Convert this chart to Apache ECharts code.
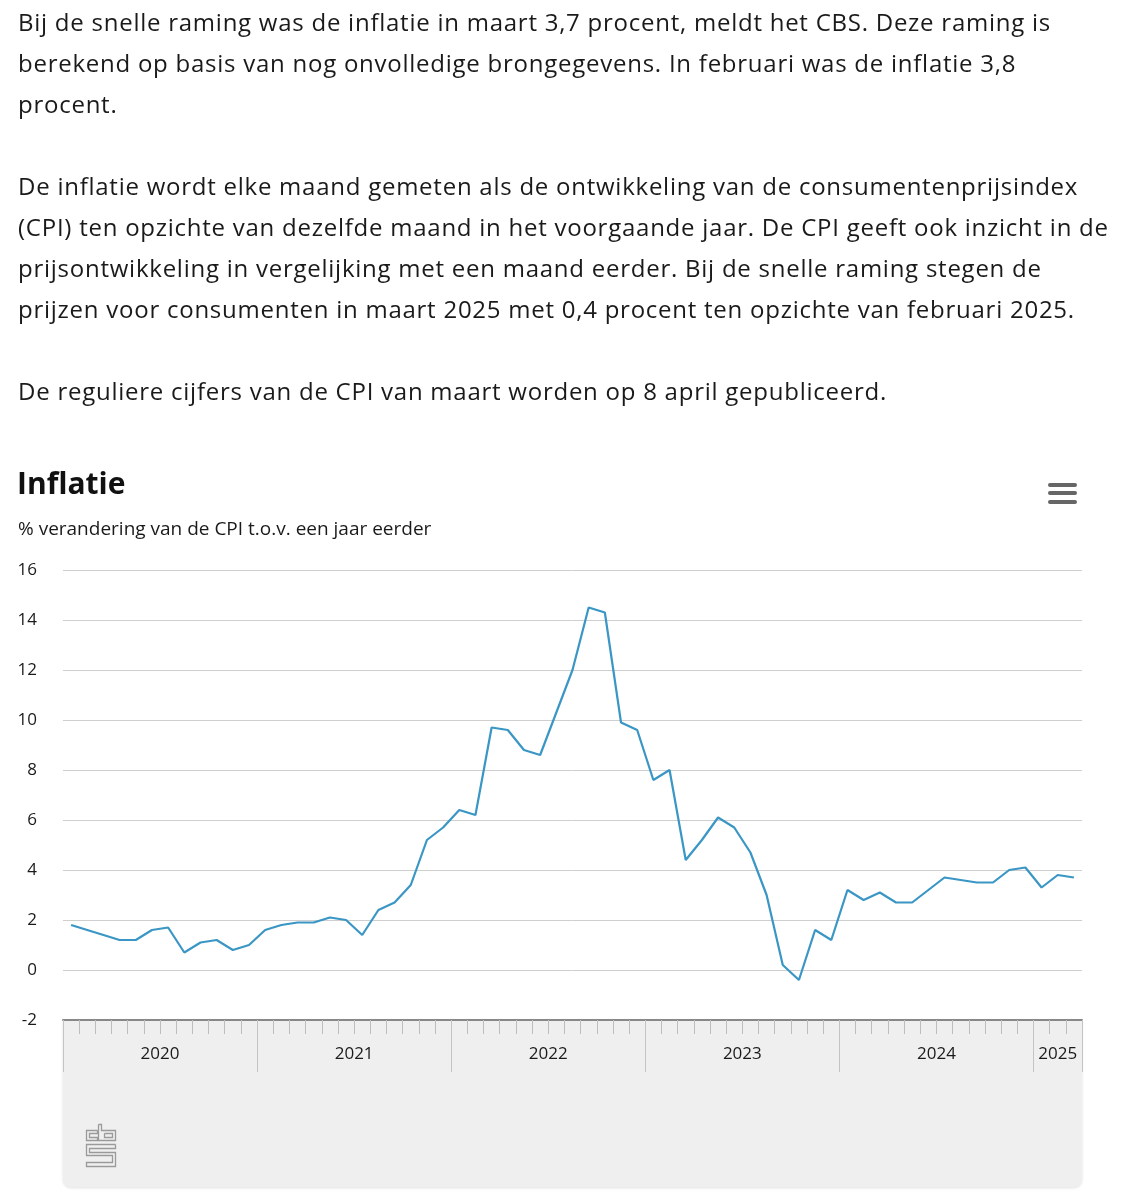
<!DOCTYPE html>
<html>
<head>
<meta charset="utf-8">
<title>Inflatie</title>
<script src="https://cdn.jsdelivr.net/npm/echarts@6/dist/echarts.min.js"></script>
<style>
	html, body { margin: 0; padding: 0; background: #ffffff; }
	#tekst {
		position: absolute; left: 18px; top: 1px; z-index: 2;
		font-family: "Open Sans", "Noto Sans", sans-serif; font-size: 24px; line-height: 41px;
		letter-spacing: 0.75px; color: #1a1a1a; white-space: nowrap;
	}
	#tekst p { margin: 0 0 41px 0; }
	#inflatie_chart { position: absolute; left: 0; top: 0; width: 1123px; height: 1200px; }
</style>
</head>
<body>
<div id="tekst">
	<p>Bij de snelle raming was de inflatie in maart 3,7 procent, meldt het CBS. Deze raming is<br>berekend op basis van nog onvolledige brongegevens. In februari was de inflatie 3,8<br>procent.</p>
	<p>De inflatie wordt elke maand gemeten als de ontwikkeling van de consumentenprijsindex<br>(CPI) ten opzichte van dezelfde maand in het voorgaande jaar. De CPI geeft ook inzicht in de<br>prijsontwikkeling in vergelijking met een maand eerder. Bij de snelle raming stegen de<br>prijzen voor consumenten in maart 2025 met 0,4 procent ten opzichte van februari 2025.</p>
	<p>De reguliere cijfers van de CPI van maart worden op 8 april gepubliceerd.</p>
</div>
<div id="inflatie_chart"></div>

<script>
	// jaren en maanden op de x-as
	var years = ['2020', '2021', '2022', '2023', '2024', '2025'];
	var monthNames = ['jan', 'feb', 'mrt', 'apr', 'mei', 'jun', 'jul', 'aug', 'sep', 'okt', 'nov', 'dec'];
	var monthsPerYear = [12, 12, 12, 12, 12, 3];

	// inflatie (% t.o.v. een jaar eerder), per maand
	var cpi2020 = [1.8, 1.6, 1.4, 1.2, 1.2, 1.6, 1.7, 0.7, 1.1, 1.2, 0.8, 1.0];
	var cpi2021 = [1.6, 1.8, 1.9, 1.9, 2.1, 2.0, 1.4, 2.4, 2.7, 3.4, 5.2, 5.7];
	var cpi2022 = [6.4, 6.2, 9.7, 9.6, 8.8, 8.6, 10.3, 12.0, 14.5, 14.3, 9.9, 9.6];
	var cpi2023 = [7.6, 8.0, 4.4, 5.2, 6.1, 5.7, 4.7, 3.0, 0.2, -0.4, 1.6, 1.2];
	var cpi2024 = [3.2, 2.8, 3.1, 2.7, 2.7, 3.2, 3.7, 3.6, 3.5, 3.5, 4.0, 4.1];
	var cpi2025 = [3.3, 3.8, 3.7];

	var yTicks = [-2, 0, 2, 4, 6, 8, 10, 12, 14, 16];

	var months = [];
	var yearStart = [];
	years.forEach(function (y, i) {
		yearStart.push(months.length);
		for (var m = 0; m < monthsPerYear[i]; m++) {
			months.push(monthNames[m] + ' ' + y);
		}
	});
	var inflatie = [].concat(cpi2020, cpi2021, cpi2022, cpi2023, cpi2024, cpi2025);

	// hulp-as in halve maanden: jaargrenzen als streep, jaartal in het midden
	var halfMonths = [];
	for (var h = 0; h <= months.length * 2; h++) halfMonths.push(h);
	var yearLabelAt = {};
	var yearTickAt = {};
	years.forEach(function (y, i) {
		var s = yearStart[i];
		var e = s + monthsPerYear[i];
		yearLabelAt[s + e] = y;
		yearTickAt[2 * s] = true;
	});
	yearTickAt[months.length * 2] = true;

	var fontFam = '"Open Sans", "Noto Sans", sans-serif';
	var lineColor = '#3a96c4';

	// cbs logootje
	function logo(x, y) {
		var st = { stroke: '#9a9a9a', lineWidth: 1.3, fill: null };
		var parts = [
			[[11, 6], [0, 6], [0, 16], [11, 16], [11, 13], [3, 13], [3, 9], [11, 9], [11, 6]],
			[[12, 0], [15, 0], [15, 6], [29, 6], [29, 16], [12, 16], [12, 0]],
			[[18, 9], [26, 9], [26, 13], [18, 13], [18, 9]],
			[[29, 20], [0, 20], [0, 31], [26, 31], [26, 38], [0, 38], [0, 42], [29, 42], [29, 28], [3, 28], [3, 24], [29, 24], [29, 20]]
		];
		return {
			type: 'group', left: x, top: y, z: 5,
			children: parts.map(function (p) {
				return { type: 'polyline', shape: { points: p }, style: st };
			})
		};
	}

	var chart = echarts.init(document.getElementById('inflatie_chart'));
	var option = {
		animation: false,
		backgroundColor: '#ffffff',
		textStyle: { fontFamily: fontFam },
		title: [
			{
				text: 'Inflatie', left: 17, top: 470, padding: 0,
				textStyle: { fontSize: 30, fontWeight: 'bold', color: '#111', fontFamily: fontFam }
			},
			{
				text: '% verandering van de CPI t.o.v. een jaar eerder', left: 18, top: 520, padding: 0,
				textStyle: { fontSize: 19, fontWeight: 'normal', color: '#1a1a1a', fontFamily: fontFam }
			}
		],
		grid: { left: 63, right: 41, top: 570, bottom: 180, containLabel: false },
		xAxis: [
			{
				type: 'category',
				data: months,
				boundaryGap: true,
				position: 'bottom',
				axisLine: { show: true, onZero: false, lineStyle: { color: '#888', width: 2 } },
				axisTick: { show: true, interval: 0, length: 14, lineStyle: { color: '#bdbdbd', width: 1 } },
				axisLabel: { show: false },
				splitLine: { show: false }
			},
			{
				type: 'category',
				data: halfMonths,
				boundaryGap: false,
				position: 'bottom',
				axisLine: { show: false, onZero: false },
				axisTick: {
					show: true, length: 52,
					interval: function (idx) { return !!yearTickAt[idx]; },
					lineStyle: { color: '#c4c4c4', width: 1 }
				},
				axisLabel: {
					show: true, margin: 26, fontSize: 17, color: '#1a1a1a', fontFamily: fontFam,
					interval: function (idx) { return yearLabelAt[idx] !== undefined; },
					formatter: function (v, idx) { return yearLabelAt[idx] || ''; }
				},
				splitLine: { show: false }
			}
		],
		yAxis: {
			type: 'value',
			min: yTicks[0],
			max: yTicks[yTicks.length - 1],
			interval: 2,
			axisLine: { show: false },
			axisTick: { show: false },
			axisLabel: { fontSize: 17, color: '#1a1a1a', margin: 26, fontFamily: fontFam },
			splitLine: { lineStyle: { color: '#cfcfcf', width: 1 } }
		},
		series: [
			{
				name: 'Inflatie',
				type: 'line',
				xAxisIndex: 0,
				data: inflatie,
				symbol: 'none',
				lineStyle: { color: lineColor, width: 2.2 },
				z: 3
			}
		],
		graphic: [
			{
				type: 'rect', z: -1,
				shape: { x: 63, y: 1020, width: 1019, height: 167, r: [0, 0, 8, 8] },
				style: { fill: '#efefef', shadowBlur: 3, shadowColor: 'rgba(0,0,0,0.12)', shadowOffsetY: 1 }
			},
			logo(84, 1122),
			{ type: 'rect', shape: { x: 1048, y: 483, width: 29, height: 4, r: 2 }, style: { fill: '#666' } },
			{ type: 'rect', shape: { x: 1048, y: 491, width: 29, height: 4, r: 2 }, style: { fill: '#666' } },
			{ type: 'rect', shape: { x: 1048, y: 500, width: 29, height: 4, r: 2 }, style: { fill: '#666' } }
		]
	};
	chart.setOption(option);
	window.addEventListener('resize', function () { chart.resize(); });
</script>
</body>
</html>
